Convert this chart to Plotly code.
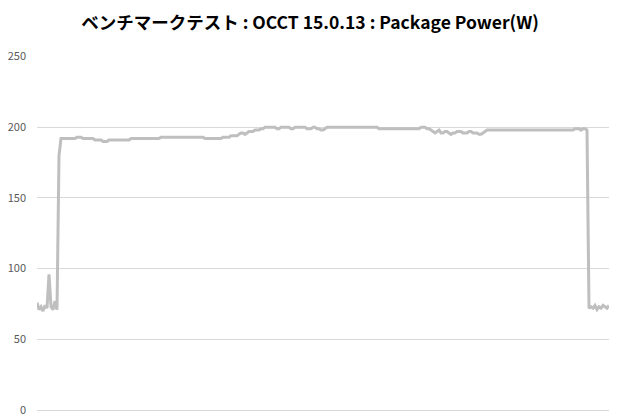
import plotly.graph_objects as go

# Package Power (W), one sample per step
power = [
    76, 71, 73, 70, 74, 72, 96, 73, 71, 77, 71, 180,
    192, 192, 192, 192, 192, 192, 192, 192, 193, 193, 193, 192, 192, 192, 192, 192, 192, 191, 191, 191,
    191, 190, 190, 190, 191, 191, 191, 191, 191, 191, 191, 191, 191,
    191, 191, 192, 192, 192, 192, 192, 192, 192, 192, 192, 192, 192, 192, 192, 192, 192,
    193, 193, 193, 193, 193, 193, 193, 193, 193, 193, 193, 193, 193, 193, 193, 193, 193, 193, 193, 193,
    193, 193, 192, 192, 192, 192, 192, 192,
    192, 192, 192, 193, 193, 193, 193, 194, 194, 194, 194, 195,
    196, 196, 195, 196, 197, 197, 197, 198, 198, 198, 199, 199, 200, 200, 200,
    200, 200, 200, 199, 199, 200, 200, 200, 200, 200, 199, 199, 200, 200, 200, 200, 200, 200, 199, 199,
    199, 200, 200, 199, 199,
    198, 198, 199, 200, 200,
    200, 200, 200, 200, 200, 200, 200, 200, 200, 200, 200, 200, 200, 200, 200, 200, 200, 200, 200, 200,
    200, 200, 200, 200,
    199, 199, 199, 199, 199, 199, 199, 199, 199, 199, 199, 199, 199, 199, 199, 199, 199, 199, 199, 199, 199,
    200, 200, 200, 199, 199,
    198, 197, 196, 197, 198,
    196, 196, 197, 197, 196, 195, 196, 196, 197, 197,
    197, 196, 196, 196, 197, 197, 196, 196, 196, 195, 195, 196, 197,
    198, 198, 198, 198, 198, 198, 198, 198, 198, 198, 198, 198, 198, 198, 198, 198, 198, 198, 198, 198,
    198, 198, 198, 198, 198, 198, 198, 198, 198, 198, 198, 198, 198, 198, 198, 198, 198, 198, 198, 198,
    198, 198, 198, 198, 199, 199, 199, 198, 199, 199, 198,
    72, 73, 72, 74, 71, 73, 72, 74, 73, 72, 74,
]
samples = list(range(len(power)))
y_ticks = [0, 50, 100, 150, 200, 250]

title = "ベンチマークテスト : OCCT 15.0.13 : Package Power(W)"

fig = go.Figure()
fig.add_trace(go.Scatter(
    x=samples, y=power,
    mode="lines",
    line=dict(color="#BFBFBF", width=3),
    showlegend=False,
    hoverinfo="skip",
))
fig.update_layout(
    width=620, height=420,
    margin=dict(l=37, r=11, t=56, b=10),
    paper_bgcolor="white",
    plot_bgcolor="white",
    title=dict(
        text=title,
        x=0.5, xanchor="center",
        y=1 - 23 / 420, yanchor="middle",
        font=dict(family="Noto Sans CJK JP", size=17.5, color="#000000", weight="bold"),
    ),
    xaxis=dict(
        range=[0, len(power) - 1],
        showticklabels=False,
        showgrid=False,
        zeroline=False,
        showline=False,
        ticks="",
        automargin=False,
    ),
    yaxis=dict(
        range=[0, 250.4],
        tickvals=y_ticks,
        showgrid=True,
        gridcolor="#D9D9D9",
        gridwidth=1,
        zeroline=True,
        zerolinecolor="#D9D9D9",
        zerolinewidth=1,
        showline=False,
        ticks="",
        ticklabelstandoff=10,
        automargin=False,
        tickfont=dict(family="Noto Sans CJK JP", size=11, color="#595959"),
    ),
)

# drop the browser's default 8px body margin so the figure sits at the window corner
fig.write_html(
    "out.html",
    config={"displayModeBar": False},
    post_script="document.body.style.margin = '0';",
)
